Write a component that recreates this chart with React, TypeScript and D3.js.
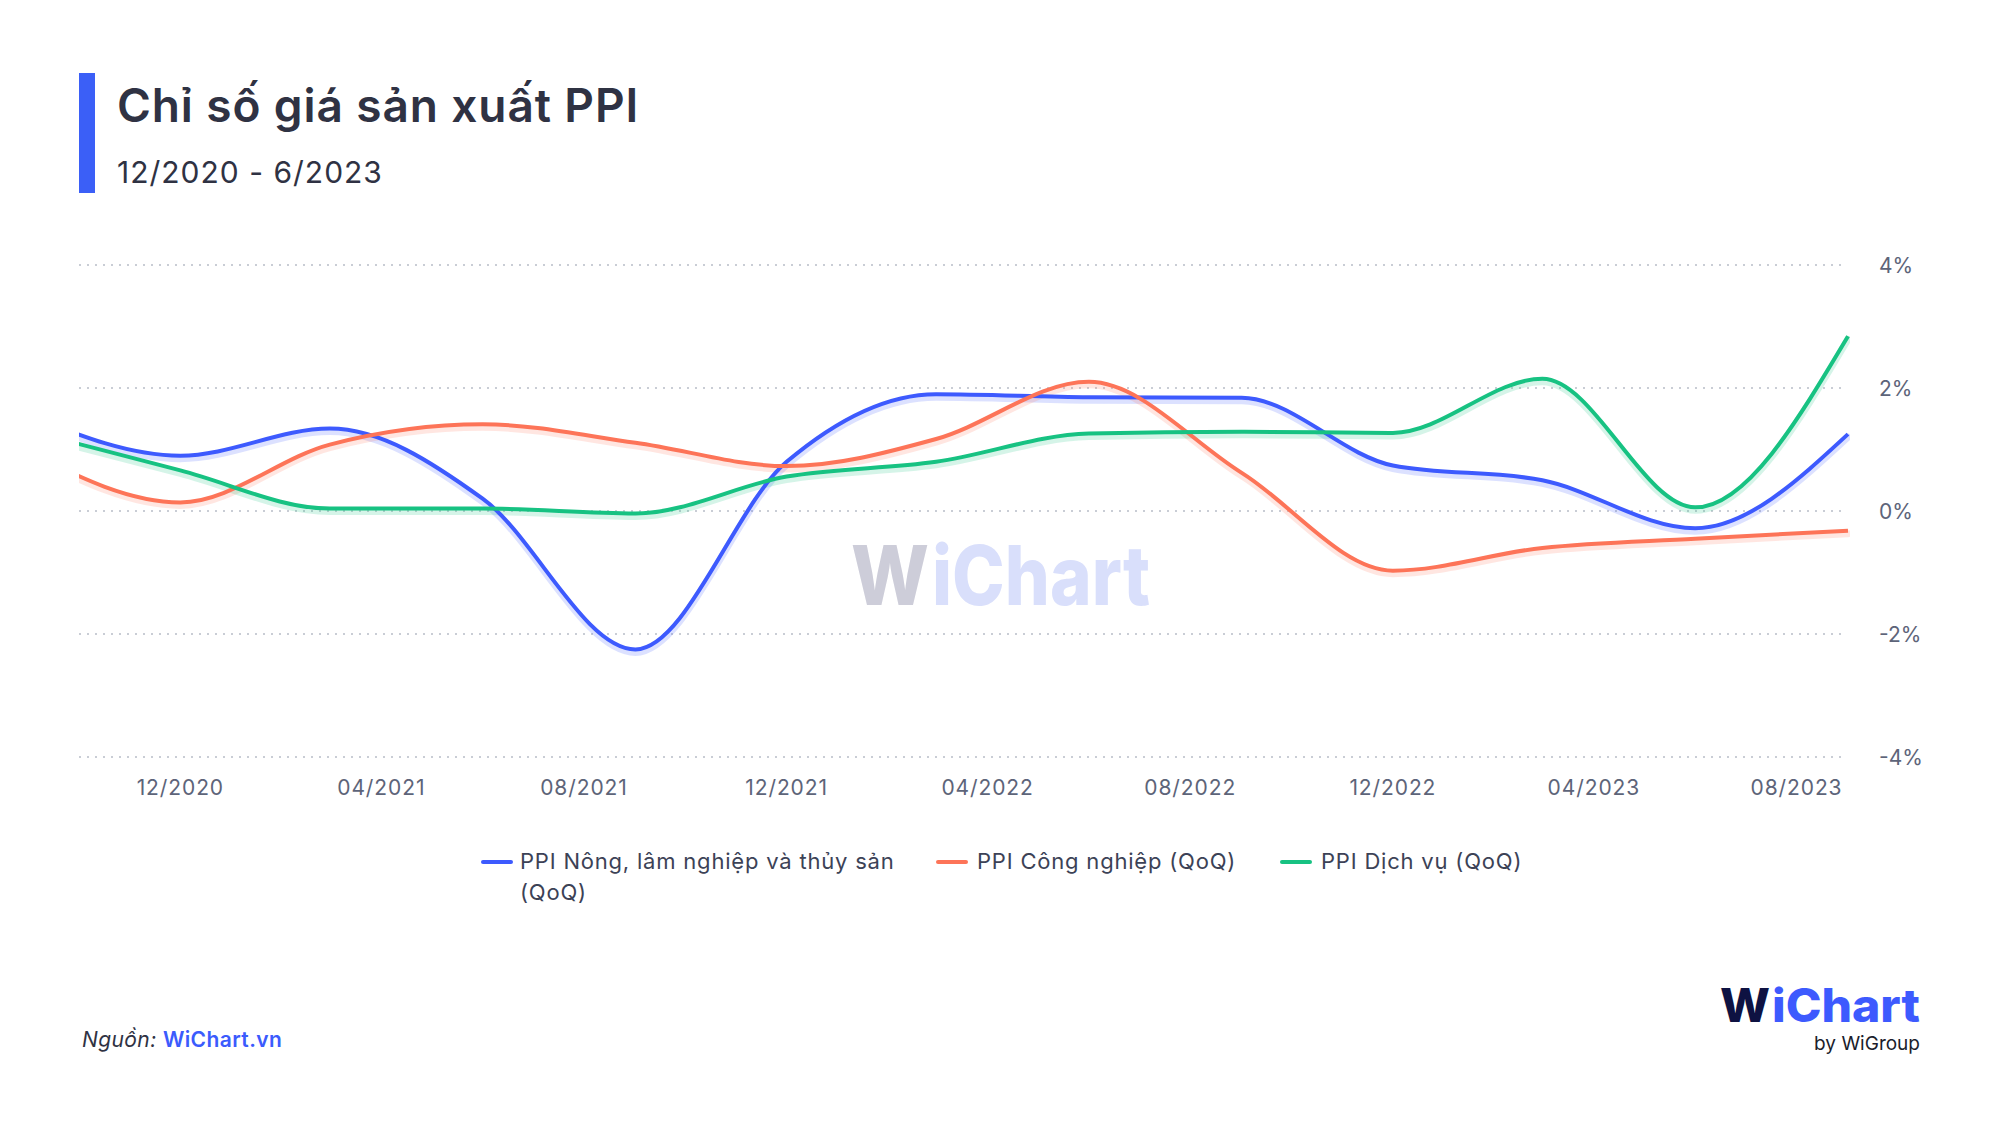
import React from "react";
import * as d3 from "d3";

// ---- Data (quarterly, QoQ %) ----
const dates = [
  "2020-09-01", "2020-12-01", "2021-03-01", "2021-06-01", "2021-09-01",
  "2021-12-01", "2022-03-01", "2022-06-01", "2022-09-01", "2022-12-01",
  "2023-03-01", "2023-06-01", "2023-09-01",
];
const agriculture = [1.55, 0.9, 1.34, 0.2, -2.25, 0.8, 1.9, 1.85, 1.84, 0.74, 0.5, -0.28, 1.25];
const industry = [0.95, 0.14, 1.08, 1.41, 1.11, 0.73, 1.17, 2.1, 0.62, -0.97, -0.6, -0.45, -0.32];
const services = [1.3, 0.66, 0.04, 0.04, -0.04, 0.56, 0.8, 1.26, 1.29, 1.27, 2.15, 0.06, 2.84];

const seriesNames = [
  "PPI Nông, lâm nghiệp và thủy sản (QoQ)",
  "PPI Công nghiệp (QoQ)",
  "PPI Dịch vụ (QoQ)",
];
const seriesColors = ["#3d5afe", "#fd7458", "#17c282"];
const yTicks = [4, 2, 0, -2, -4];
const xTickDates = [
  "2020-12-01", "2021-04-01", "2021-08-01", "2021-12-01", "2022-04-01",
  "2022-08-01", "2022-12-01", "2023-04-01", "2023-08-01",
];
const xDomain = ["2020-10-01", "2023-09-01"];

const title = "Chỉ số giá sản xuất PPI";
const subtitle = "12/2020 - 6/2023";

const FONT = "Inter, 'Noto Sans', sans-serif";

export default function App() {
  const W = 2000, H = 1144;
  const left = 79, right = 1848, top = 265, bottom = 757;
  const parse = d3.utcParse("%Y-%m-%d");
  const x = d3.scaleUtc().domain(xDomain.map((d) => parse(d)!)).range([left, right]);
  const y = d3.scaleLinear().domain([-4, 4]).range([bottom, top]);
  const fmt = d3.utcFormat("%m/%Y");

  const allSeries = [agriculture, industry, services];
  const line = d3
    .line<number>()
    .x((_, i) => x(parse(dates[i])!))
    .y((v) => y(v))
    .curve(d3.curveMonotoneX);

  const legendItems = [
    { sx: 481, tx: 520, lines: ["PPI Nông, lâm nghiệp và thủy sản", "(QoQ)"] },
    { sx: 936, tx: 977, lines: [seriesNames[1]] },
    { sx: 1280, tx: 1321, lines: [seriesNames[2]] },
  ];

  return (
    <svg
      width={W}
      height={H}
      viewBox={`0 0 ${W} ${H}`}
      style={{ position: "absolute", left: 0, top: 0, background: "#fff" }}
      fontFamily={FONT}
    >
      <defs>
        <clipPath id="plotClip">
          <rect x={left} y={0} width={right - left + 2} height={H} />
        </clipPath>
      </defs>
      <rect width={W} height={H} fill="#fff" />

      {/* Title block */}
      <rect x={79} y={73} width={16} height={120} fill="#3b5ff7" />
      <text x={117} y={122} fontSize={46} fontWeight={600} fill="#2f3243" letterSpacing={0.9}>
        {title}
      </text>
      <text x={117} y={183} fontSize={30} fontWeight={400} fill="#2f3243" letterSpacing={1}>
        {subtitle}
      </text>

      {/* Gridlines */}
      {yTicks.map((t) => (
        <line
          key={t}
          x1={left}
          x2={right - 4}
          y1={y(t)}
          y2={y(t)}
          stroke="#c9cdd5"
          strokeWidth={2}
          strokeDasharray="2 6"
        />
      ))}
      {yTicks.map((t) => (
        <text
          key={"l" + t}
          x={1879}
          y={y(t)}
          dy="0.36em"
          fontSize={21}
          fill="#5d6479"
        >
          {t + "%"}
        </text>
      ))}

      {/* X axis labels */}
      {xTickDates.map((d) => (
        <text
          key={d}
          x={x(parse(d)!)}
          y={795}
          textAnchor="middle"
          fontSize={21}
          letterSpacing={0.9}
          fill="#5d6479"
        >
          {fmt(parse(d)!)}
        </text>
      ))}

      {/* Watermark */}
      <text x={851} y={605} fontSize={82} fontWeight={800} fill="#cdcdd9" textLength={78} lengthAdjust="spacingAndGlyphs">
        W
      </text>
      <text x={932} y={605} fontSize={82} fontWeight={800} fill="#d9dffb" textLength={218} lengthAdjust="spacingAndGlyphs">
        iChart
      </text>

      {/* Lines */}
      <g clipPath="url(#plotClip)">
        {allSeries.map((s, i) => (
          <path
            key={"sh" + i}
            d={line(s) || ""}
            transform="translate(0,3)"
            fill="none"
            stroke={seriesColors[i]}
            strokeOpacity={0.18}
            strokeWidth={7}
            strokeLinecap="round"
          />
        ))}
        {allSeries.map((s, i) => (
          <path
            key={"ln" + i}
            d={line(s) || ""}
            fill="none"
            stroke={seriesColors[i]}
            strokeWidth={4}
            strokeLinejoin="round"
          />
        ))}
      </g>

      {/* Legend */}
      {legendItems.map((it, i) => (
        <g key={"lg" + i}>
          <line
            x1={it.sx + 2}
            x2={it.sx + 30}
            y1={862}
            y2={862}
            stroke={seriesColors[i]}
            strokeWidth={4}
            strokeLinecap="round"
          />
          <text x={it.tx} y={869} fontSize={22} fill="#3c4256" letterSpacing={0.8}>
            {it.lines.map((l, j) => (
              <tspan key={j} x={it.tx} dy={j === 0 ? 0 : 31}>
                {l}
              </tspan>
            ))}
          </text>
        </g>
      ))}

      {/* Source */}
      <text x={82} y={1047} fontSize={21} letterSpacing={0.4}>
        <tspan fill="#2f3243" fontStyle="italic">Nguồn: </tspan>
        <tspan fill="#3b5bfd" fontWeight={600}>WiChart.vn</tspan>
      </text>

      {/* Logo */}
      <text x={1720} y={1022} fontSize={46} fontWeight={800} fill="#0e1242" textLength={50} lengthAdjust="spacingAndGlyphs">
        W
      </text>
      <text x={1772} y={1022} fontSize={46} fontWeight={800} fill="#3d5afe" textLength={148} lengthAdjust="spacingAndGlyphs">
        iChart
      </text>
      <text x={1920} y={1050} fontSize={19} fill="#1b1d2b" textAnchor="end">
        by WiGroup
      </text>
    </svg>
  );
}
